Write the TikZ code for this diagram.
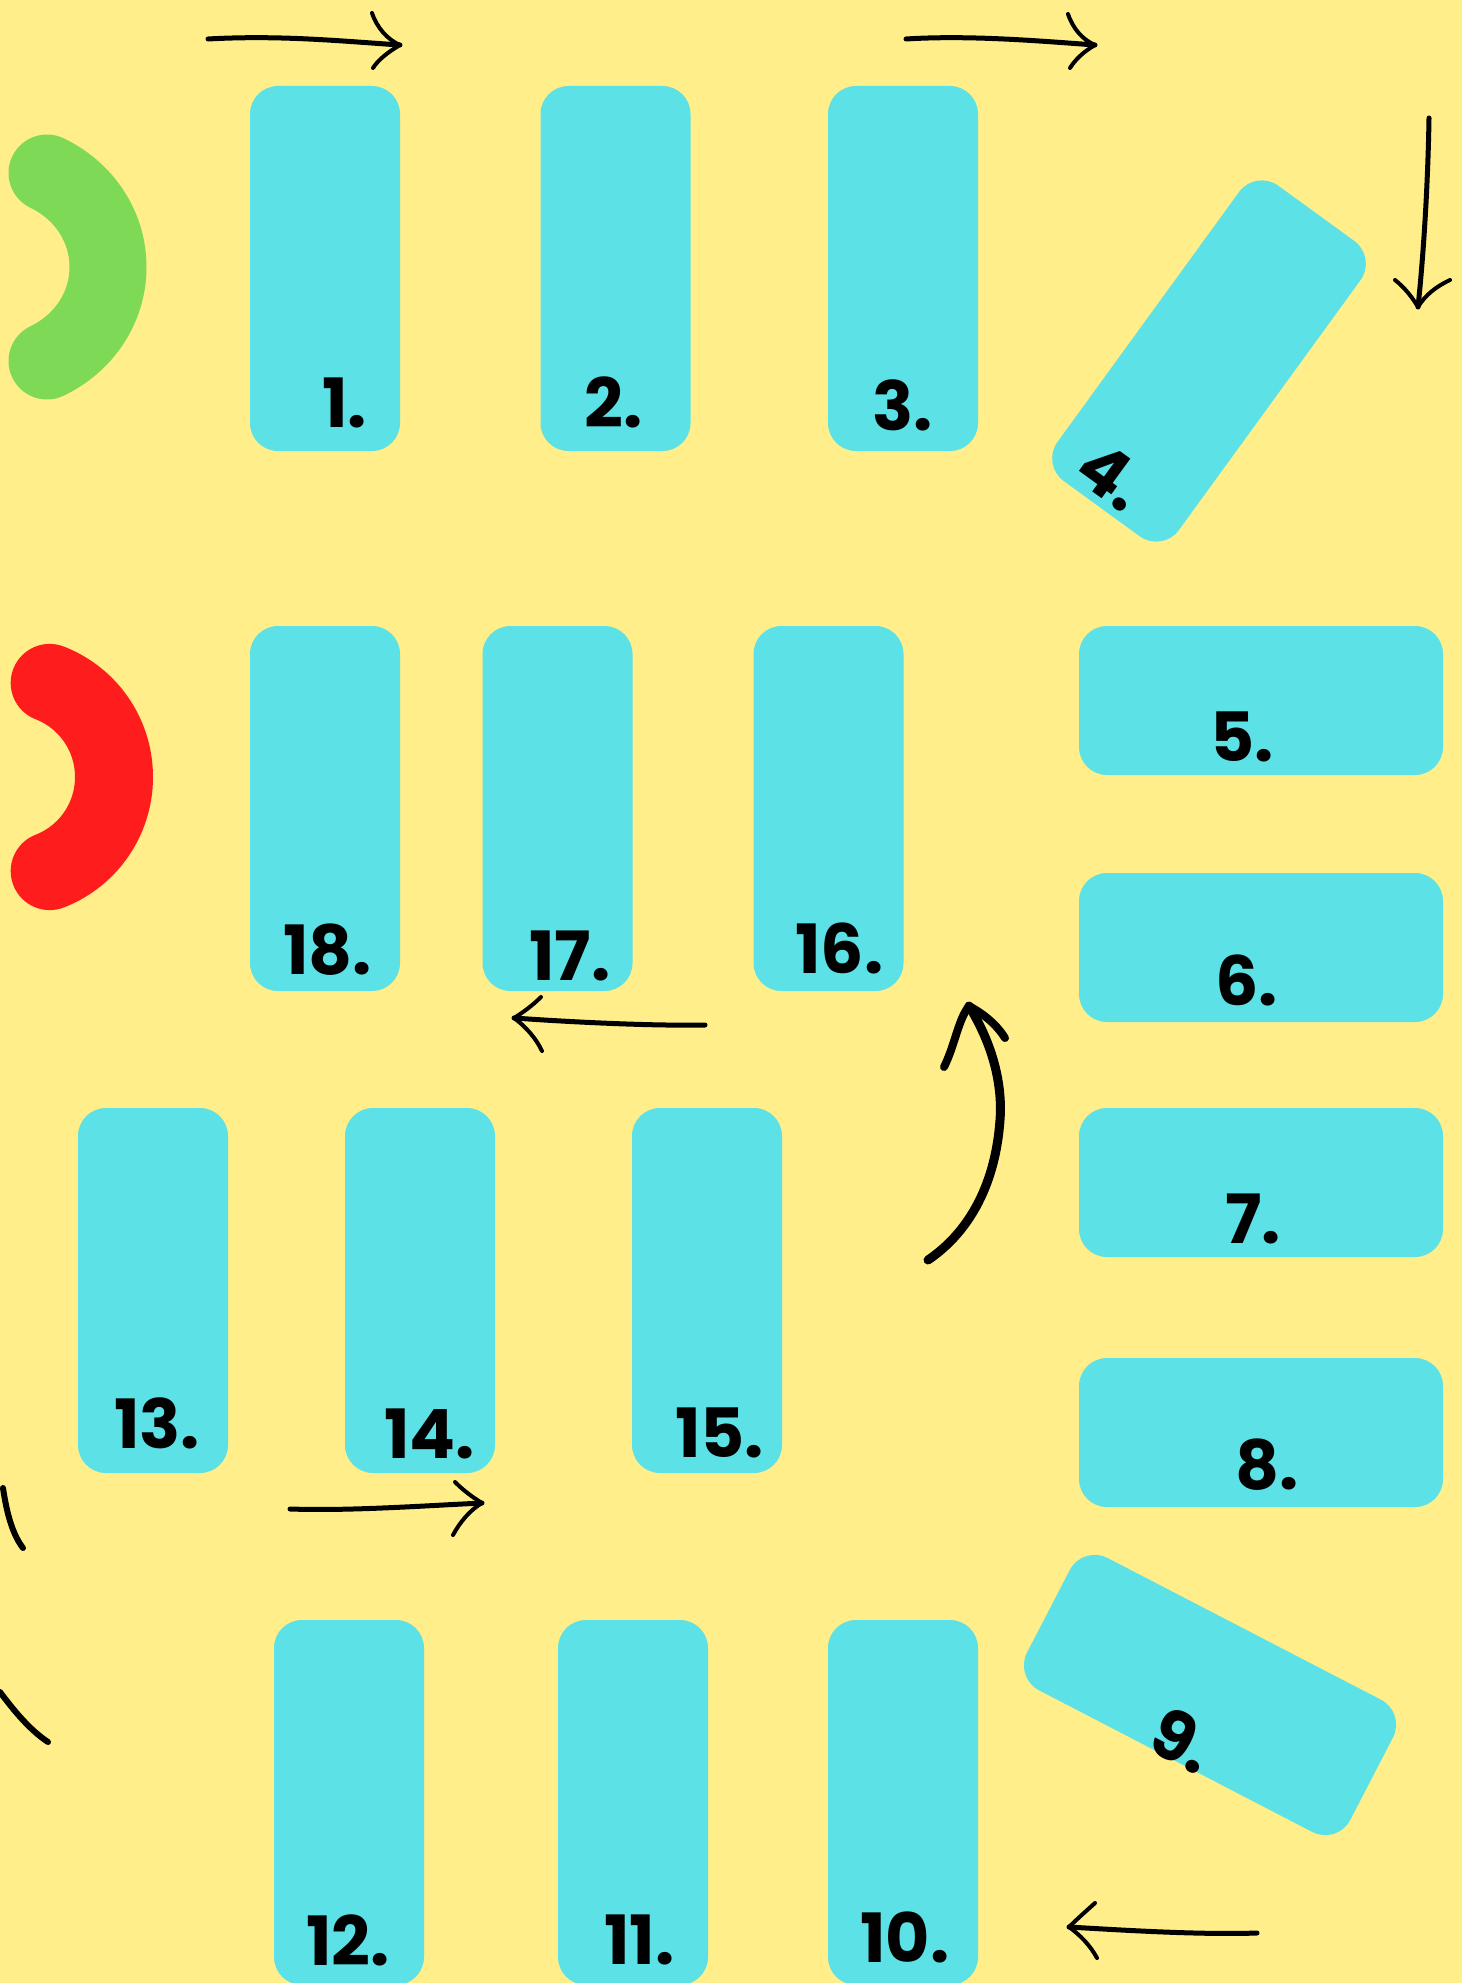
\documentclass[tikz,border=0pt]{standalone}
\usepackage{fontspec}
\newfontfamily\lblfont{Poppins}
\definecolor{bg}{HTML}{FFEE8A}
\definecolor{cardc}{HTML}{5CE1E6}
\definecolor{grn}{HTML}{7ED957}
\definecolor{rd}{HTML}{FF1C1C}
\begin{document}
\begin{tikzpicture}[x=1pt,y=-1pt,
  card/.style={fill=cardc, rounded corners=28pt, inner sep=0pt, minimum width=150pt, minimum height=365pt},
  wcard/.style={card, minimum width=364pt, minimum height=149pt},
  num/.style={font=\lblfont\bfseries\fontsize{68}{68}\selectfont, inner sep=0pt, anchor=base west},
  rnum/.style={font=\lblfont\bfseries\fontsize{68}{68}\selectfont, inner sep=0pt, anchor=center},
  pen/.style={line width=5pt, line cap=round, line join=round},
  barb/.style={line width=4pt, line cap=round, line join=round},
  thick pen/.style={line width=9pt, line cap=round, line join=round}]
\useasboundingbox (0,0) rectangle (1462,1983);
\clip (0,0) rectangle (1462,1983);
\fill[bg] (0,0) rectangle (1462,1983);

% start / end markers
\draw[grn, line width=77pt, line cap=round]
  (47,173) .. controls (83.5,190.5) and (108,226) .. (108,267)
  .. controls (108,308) and (83.5,343.5) .. (47,361);
\draw[rd, line width=78pt, line cap=round]
  (49.7,682.9) .. controls (88.6,698) and (114,735.3) .. (114,777)
  .. controls (114,818.7) and (88.6,856) .. (49.7,871.1);

% cards
\node[card] (r1) at (325,268.5) {};
\node[card] (r2) at (615.5,268.5) {};
\node[card] (r3) at (903,268.5) {};
\node[card, rotate=-36] (r4) at (1209,361) {};
\node[wcard] (r5) at (1261,700.5) {};
\node[wcard] (r6) at (1261,947.5) {};
\node[wcard] (r7) at (1261,1182.5) {};
\node[wcard] (r8) at (1261,1432.5) {};
\node[wcard, rotate=-27.4] (r9) at (1210,1695) {};
\node[card] (r10) at (903,1802.5) {};
\node[card] (r11) at (633,1802.5) {};
\node[card] (r12) at (349,1802.5) {};
\node[card] (r13) at (153,1290.5) {};
\node[card] (r14) at (420,1290.5) {};
\node[card] (r15) at (707,1290.5) {};
\node[card] (r16) at (828.5,808.5) {};
\node[card] (r17) at (557.5,808.5) {};
\node[card] (r18) at (325,808.5) {};

% labels
\node[num] (l1) at (322,427) {1.};
\node[num] (l2) at (584,427) {2.};
\node[num] (l3) at (872,430) {3.};
\node[rnum, rotate=-36] (l4) at (1112,476) {4.};
\node[num] (l5) at (1210,761) {5.};
\node[num] (l6) at (1215,1005) {6.};
\node[num] (l7) at (1225,1243) {7.};
\node[num] (l8) at (1235,1489) {8.};
\node[rnum, rotate=-27.4] (l9) at (1183,1740) {9.};
\node[num] (l10) at (860,1962) {10.};
\node[num] (l11) at (604,1964) {11.};
\node[num] (l12) at (306,1965) {12.};
\node[num] (l13) at (114,1448) {13.};
\node[num] (l14) at (384,1458) {14.};
\node[num] (l15) at (675,1457) {15.};
\node[num] (l16) at (795,973) {16.};
\node[num] (l17) at (529,980) {17.};
\node[num] (l18) at (283,974) {18.};

% arrow end points
\coordinate (a1s) at (208,39);   \coordinate (a1t) at (400,45);
\coordinate (a2s) at (906,39);   \coordinate (a2t) at (1095,45);
\coordinate (a3s) at (1429,118); \coordinate (a3t) at (1418,307);
\coordinate (a4s) at (705,1025); \coordinate (a4t) at (514,1018);
\coordinate (a5s) at (928,1260); \coordinate (a5t) at (969,1006);
\coordinate (a6s) at (290,1509); \coordinate (a6t) at (482,1503);
\coordinate (a8s) at (1257,1933); \coordinate (a8t) at (1069,1927);

% arrow 1
\draw[pen] (a1s) .. controls (280,35) and (340,41) .. (a1t);
\draw[barb] (372,13) .. controls (377,28) and (388,40) .. (a1t);
\draw[barb] (a1t) .. controls (388,52) and (378,60) .. (373,68);
% arrow 2
\draw[pen] (a2s) .. controls (970,35) and (1040,41) .. (a2t);
\draw[barb] (1068,14) .. controls (1073,29) and (1083,40) .. (a2t);
\draw[barb] (a2t) .. controls (1083,52) and (1075,60) .. (1070,68);
% arrow 3
\draw[pen] (a3s) .. controls (1428,180) and (1424,250) .. (a3t);
\draw[barb] (1395,280) .. controls (1405,288) and (1412,297) .. (a3t);
\draw[barb] (a3t) .. controls (1425,295) and (1437,286) .. (1450,280);
% arrow 4
\draw[pen] (a4s) .. controls (650,1026) and (570,1022) .. (a4t);
\draw[barb] (541,997) .. controls (532,1006) and (522,1013) .. (a4t);
\draw[barb] (a4t) .. controls (525,1026) and (536,1038) .. (542,1051);
% arrow 5
\draw[thick pen] (a5s) .. controls (965,1235) and (995,1190) .. (1000,1120)
  .. controls (1003,1080) and (990,1040) .. (a5t);
\draw[line width=8pt, line cap=round] (a5t) .. controls (958,1020) and (955,1045) .. (944,1067);
\draw[line width=8pt, line cap=round] (a5t) .. controls (980,1012) and (995,1022) .. (1005,1038);
% arrow 6
\draw[pen] (a6s) .. controls (350,1511) and (420,1506) .. (a6t);
\draw[barb] (455,1482) .. controls (465,1492) and (474,1498) .. (a6t);
\draw[barb] (a6t) .. controls (470,1510) and (460,1522) .. (453,1535);
% arrow 7 (partly off the page)
\draw[line width=6pt, line cap=round] (3,1488) .. controls (7,1515) and (13,1535) .. (23,1548);
\draw[line width=6pt, line cap=round] (0,1692) .. controls (15,1712) and (30,1730) .. (48,1742);
% arrow 8
\draw[pen] (a8s) .. controls (1200,1935) and (1120,1930) .. (a8t);
\draw[barb] (1095,1903) .. controls (1085,1912) and (1076,1920) .. (a8t);
\draw[barb] (a8t) .. controls (1080,1935) and (1090,1945) .. (1097,1958);
\end{tikzpicture}
\end{document}
